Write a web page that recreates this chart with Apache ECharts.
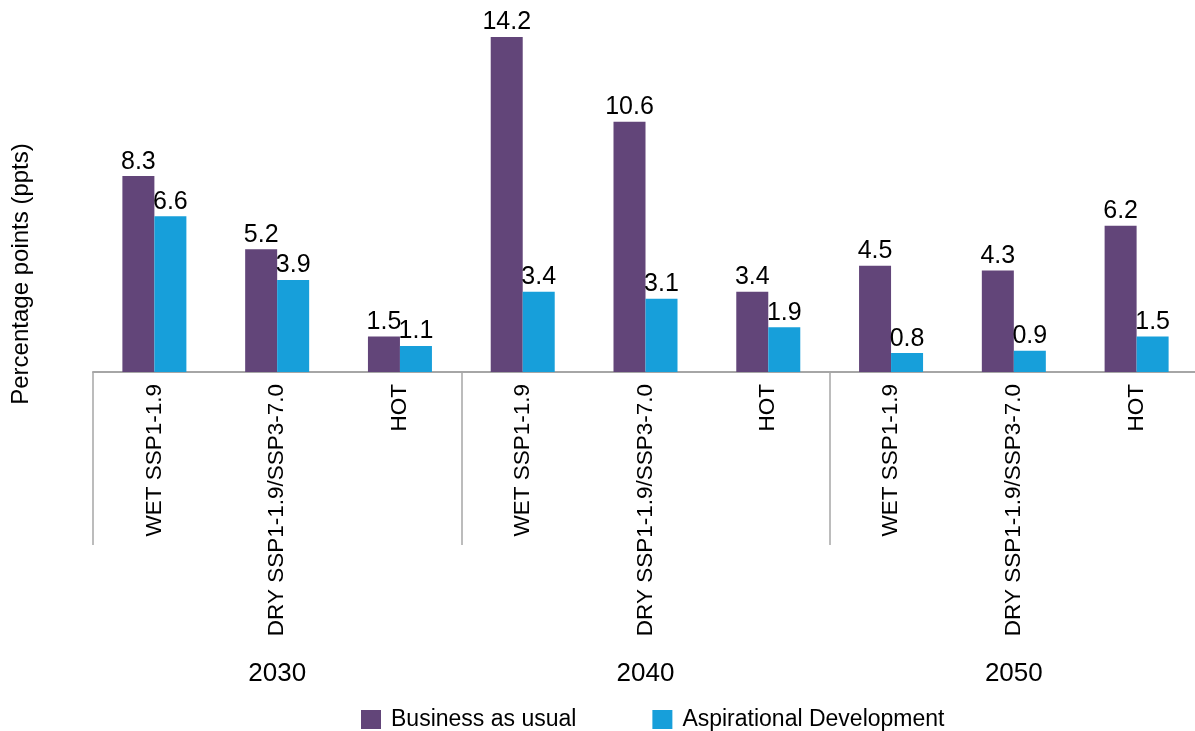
<!DOCTYPE html>
<html>
<head>
<meta charset="utf-8">
<script src="https://cdn.jsdelivr.net/npm/echarts@6/dist/echarts.min.js"></script>
<style>
  html, body { margin: 0; padding: 0; background: #ffffff; overflow: hidden; }
  #chart { width: 1195px; height: 731px; }
</style>
</head>
<body>
<div id="chart"></div>
<script>
// Scenario labels under each bar pair, repeated for every year
const scenarios = [
  'WET SSP1-1.9', 'DRY SSP1-1.9/SSP3-7.0', 'HOT',
  'WET SSP1-1.9', 'DRY SSP1-1.9/SSP3-7.0', 'HOT',
  'WET SSP1-1.9', 'DRY SSP1-1.9/SSP3-7.0', 'HOT'
];
const years = ['2030', '2040', '2050'];

// Percentage-point values per scenario
const businessAsUsual = [8.3, 5.2, 1.5, 14.2, 10.6, 3.4, 4.5, 4.3, 6.2];
const aspirational = [6.6, 3.9, 1.1, 3.4, 3.1, 1.9, 0.8, 0.9, 1.5];

const seriesNames = ['Business as usual', 'Aspirational Development'];
const yTitle = 'Percentage points (ppts)';

const FONT = "'Liberation Sans', Arial, sans-serif";
const PURPLE = '#624579';
const BLUE = '#179fda';
const AXIS = '#a6a6a6';

const chart = echarts.init(document.getElementById('chart'), null, { renderer: 'canvas' });

const valueLabel = {
  show: true,
  position: 'top',
  distance: 2,
  color: '#000',
  fontSize: 25,
  fontFamily: FONT,
  formatter: p => p.value.toFixed(1)
};

chart.setOption({
  animation: false,
  textStyle: { fontFamily: FONT },
  // the plot runs a little past the right edge so the last group boundary stays hidden
  grid: {
    left: 93, width: 1105, top: 18, height: 354,
    containLabel: false,
    outerBoundsMode: 'none'
  },
  legend: {
    left: 356,
    top: 703,
    itemWidth: 20,
    itemHeight: 19,
    itemGap: 76,
    icon: 'rect',
    textStyle: { fontSize: 23, color: '#000', fontFamily: FONT, padding: [0, 0, 0, 5] },
    data: seriesNames
  },
  // Rotated title for the value axis
  graphic: [{
    type: 'text',
    x: 21,
    y: 274,
    rotation: Math.PI / 2,
    style: {
      text: yTitle,
      fontSize: 24,
      fontFamily: FONT,
      fill: '#000',
      textAlign: 'center',
      textVerticalAlign: 'middle'
    }
  }],
  xAxis: [
    {
      type: 'category',
      data: scenarios,
      position: 'bottom',
      axisLine: { show: true, lineStyle: { color: AXIS, width: 2 } },
      axisTick: { show: false },
      axisLabel: {
        interval: 0,
        rotate: 90,
        margin: 12,
        fontSize: 22.5,
        color: '#000',
        fontFamily: FONT
      }
    },
    {
      // Year groups: boundary ticks act as the vertical separators
      type: 'category',
      data: years,
      position: 'bottom',
      axisLine: { show: false },
      axisTick: { show: true, length: 173, interval: 0, lineStyle: { color: AXIS, width: 1.5 } },
      axisLabel: {
        interval: 0,
        margin: 289,
        fontSize: 26,
        color: '#000',
        fontFamily: FONT
      }
    }
  ],
  yAxis: {
    type: 'value',
    min: 0,
    max: 15,
    axisLine: { show: false },
    axisTick: { show: false },
    axisLabel: { show: false },
    splitLine: { show: false }
  },
  series: [
    {
      name: seriesNames[0],
      type: 'bar',
      xAxisIndex: 0,
      data: businessAsUsual,
      barWidth: 32,
      barGap: '0%',
      itemStyle: { color: PURPLE },
      label: valueLabel
    },
    {
      name: seriesNames[1],
      type: 'bar',
      xAxisIndex: 0,
      data: aspirational,
      barWidth: 32,
      barGap: '0%',
      itemStyle: { color: BLUE },
      label: valueLabel
    }
  ]
});
</script>
</body>
</html>
